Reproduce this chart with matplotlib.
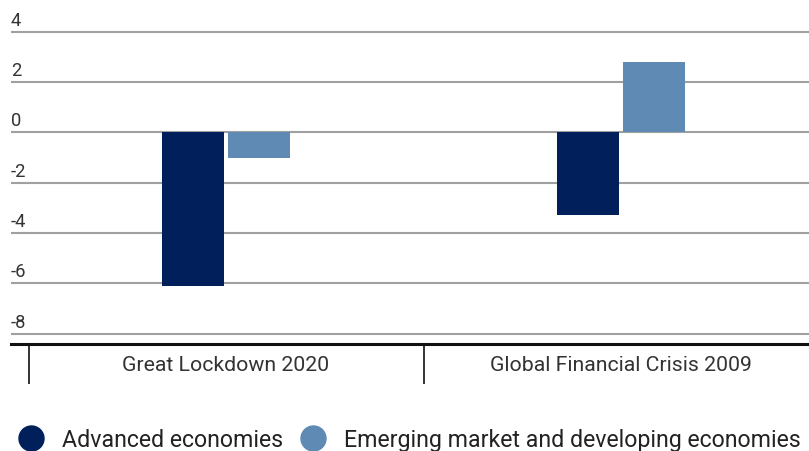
import matplotlib
matplotlib.use("Agg")
import matplotlib.pyplot as plt
from matplotlib.lines import Line2D
import matplotlib.transforms as mtransforms
import numpy as np

plt.rcParams['font.family'] = ['Roboto', 'DejaVu Sans']

categories = ["Great Lockdown 2020", "Global Financial Crisis 2009"]
series_names = ["Advanced economies", "Emerging market and developing economies"]
advanced = [-6.1, -3.3]
emerging = [-1.0, 2.8]
yticks = [-8, -6, -4, -2, 0, 2, 4]

c_adv = "#001f5b"
c_emd = "#5e8ab4"

W, H = 809, 452
fig = plt.figure(figsize=(W / 100, H / 100), dpi=100)
ax_bottom_px = 345.3
ax = fig.add_axes([11 / W, (H - ax_bottom_px) / H, 798 / W, ax_bottom_px / H])

x = np.arange(len(categories))
bw = 0.157
off = 0.0835
ax.bar(x - off, advanced, bw, color=c_adv, zorder=3)
ax.bar(x + off, emerging, bw, color=c_emd, zorder=3)

for s in ["top", "left", "right"]:
    ax.spines[s].set_visible(False)
ax.spines["bottom"].set_linewidth(2.2)
ax.spines["bottom"].set_color("#111111")

ax.set_yticks(yticks)
ax.yaxis.grid(True, color="#a0a0a0", linewidth=1.5, zorder=1)
ax.tick_params(axis="y", length=0, labelleft=False)

ax.set_xticks(x)
ax.set_xticklabels(categories, fontsize=15.3, color="#333333")
ax.tick_params(axis="x", which="major", length=0, pad=7.5)
ax.set_xticks([-0.5, 0.5], minor=True)
ax.tick_params(axis="x", which="minor", length=28.8, width=1.2, color="#111111", direction="out")

ax.set_ylim(-8.42, 5.3)
ppu = 395.0
ax.set_xlim(-(226.0 - 11) / ppu, (809 - 226.0) / ppu)

trans = mtransforms.blended_transform_factory(ax.transAxes, ax.transData)
for t in yticks:
    ax.text(0, t, f"{t}", transform=trans + mtransforms.ScaledTranslation(0, 7 / 100, fig.dpi_scale_trans),
            ha="left", va="baseline", fontsize=13.2, color="#333333")

handles = [Line2D([], [], marker="o", linestyle="none", markersize=18, color=c_adv),
           Line2D([], [], marker="o", linestyle="none", markersize=18, color=c_emd)]
fig.legend(handles, series_names, loc="center left", bbox_to_anchor=(17 / W, (H - 441) / H),
           ncol=2, frameon=False, fontsize=16.7, handletextpad=0.74, columnspacing=0.67,
           borderpad=0, borderaxespad=0, handlelength=1.2, labelcolor="#222222")

fig.savefig("out.png", dpi=100)
